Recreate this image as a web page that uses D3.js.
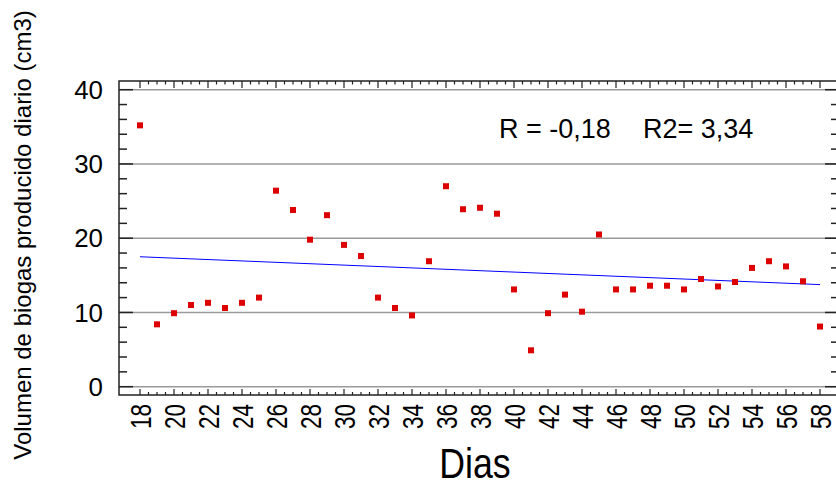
<!DOCTYPE html>
<html>
<head>
<meta charset="utf-8">
<script src="https://cdn.jsdelivr.net/npm/d3@7"></script>
<style>
  html, body { margin: 0; padding: 0; background: #fff; }
  svg { display: block; }
  text { font-family: "Liberation Sans", Arial, sans-serif; fill: #000; }
</style>
</head>
<body>
<svg id="chart" width="836" height="487"></svg>
<script>
// ---- data ----
const days = [18,19,20,21,22,23,24,25,26,27,28,29,30,31,32,33,34,35,36,37,38,
              39,40,41,42,43,44,45,46,47,48,49,50,51,52,53,54,55,56,57,58];
const volumes = [35.2,8.4,9.9,11.0,11.3,10.6,11.3,12.0,26.4,23.8,19.8,23.1,19.1,17.6,12.0,10.6,9.6,16.9,27.0,23.9,24.1,
                 23.3,13.1,4.9,9.9,12.4,10.1,20.5,13.1,13.1,13.6,13.6,13.1,14.5,13.5,14.1,16.0,16.9,16.2,14.2,8.1];
const fitDays = [18, 58];
const fitValues = [17.5, 13.75];
const yTicks = [0, 10, 20, 30, 40];
const xTicks = d3.range(18, 59, 2);
const statR = "R = -0,18";
const statR2 = "R2= 3,34";
const xTitle = "Dias";
const yTitle = "Volumen de biogas producido diario (cm3)";

// ---- layout ----
const svg = d3.select("#chart");
const frame = {left: 119, top: 81, right: 839, bottom: 395};
const x = d3.scaleLinear().domain([18, 58]).range([140, 820]);
const y = d3.scaleLinear().domain([0, 40]).range([386.7, 89.7]);

// gridlines
svg.append("g").selectAll("line").data(yTicks).join("line")
  .attr("x1", frame.left).attr("x2", frame.right)
  .attr("y1", d => y(d)).attr("y2", d => y(d))
  .attr("stroke", "#9a9a9a").attr("stroke-width", 1.4);

// frame
const axColor = "#222";
svg.append("rect")
  .attr("x", frame.left).attr("y", frame.top)
  .attr("width", frame.right - frame.left).attr("height", frame.bottom - frame.top)
  .attr("fill", "none").attr("stroke", axColor).attr("stroke-width", 1.5);

// y ticks (left & right), minor every 2
const yMinor = d3.range(0, 40.01, 2);
const tg = svg.append("g").attr("stroke", axColor).attr("stroke-width", 1.5);
yMinor.forEach(v => {
  const major = v % 10 === 0;
  const len = major ? 14 : 8;
  tg.append("line").attr("x1", frame.left).attr("x2", frame.left + len)
    .attr("y1", y(v)).attr("y2", y(v));
  tg.append("line").attr("x1", frame.right).attr("x2", frame.right - len)
    .attr("y1", y(v)).attr("y2", y(v));
});
// x ticks (top & bottom), minor every 0.5
const xMinor = d3.range(18, 58.01, 0.5);
xMinor.forEach(v => {
  const major = (v % 2 === 0);
  const lenTop = major ? 7 : 3.5;
  const lenBot = major ? 6 : 3;
  tg.append("line").attr("x1", x(v)).attr("x2", x(v))
    .attr("y1", frame.top).attr("y2", frame.top + lenTop).attr("stroke-width", 1.2);
  tg.append("line").attr("x1", x(v)).attr("x2", x(v))
    .attr("y1", frame.bottom).attr("y2", frame.bottom - lenBot).attr("stroke-width", 1.2);
});

// y tick labels
svg.append("g").selectAll("text").data(yTicks).join("text")
  .attr("transform", d => `translate(103,${y(d)}) scale(1.08,1.05)`)
  .attr("dy", "0.36em")
  .attr("text-anchor", "end").attr("font-size", 24)
  .text(d => d);

// x tick labels (rotated, glyphs stretched across)
svg.append("g").selectAll("text").data(xTicks).join("text")
  .attr("transform", d => `translate(${x(d)},404) rotate(-90) scale(1,1.3)`)
  .attr("dy", "0.36em")
  .attr("text-anchor", "end").attr("font-size", 22.5)
  .text(d => d);

// regression line
svg.append("path")
  .datum(fitDays.map((d, i) => [d, fitValues[i]]))
  .attr("d", d3.line().x(d => x(d[0])).y(d => y(d[1])))
  .attr("fill", "none").attr("stroke", "#0000ff").attr("stroke-width", 1);

// points
svg.append("g").selectAll("rect").data(days.map((d, i) => [d, volumes[i]])).join("rect")
  .attr("x", d => x(d[0]) - 3).attr("y", d => y(d[1]) - 3)
  .attr("width", 6).attr("height", 6)
  .attr("fill", "#dd0000");

// stats text
svg.append("text").attr("x", 499).attr("y", 137.5).attr("font-size", 27).text(statR);
svg.append("text").attr("x", 643).attr("y", 137.5).attr("font-size", 27).text(statR2);

// axis titles
svg.append("text")
  .attr("transform", "translate(475,478) scale(0.85,1)")
  .attr("text-anchor", "middle").attr("font-size", 42)
  .text(xTitle);
svg.append("text")
  .attr("transform", "translate(31,235) rotate(-90)")
  .attr("text-anchor", "middle").attr("font-size", 24)
  .text(yTitle);
</script>
</body>
</html>
